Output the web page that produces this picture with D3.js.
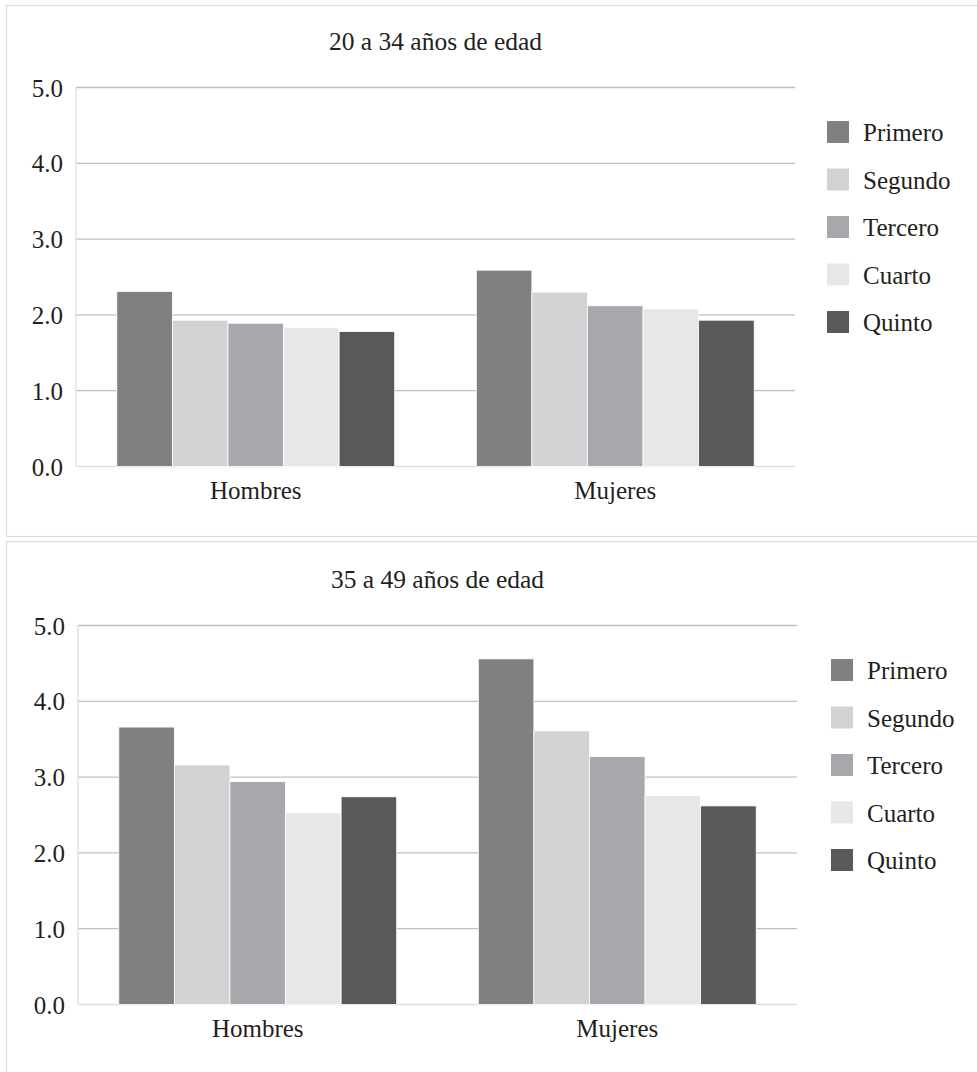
<!DOCTYPE html>
<html>
<head>
<meta charset="utf-8">
<script src="https://cdn.jsdelivr.net/npm/d3@7"></script>
<style>
  html, body { margin: 0; padding: 0; background: #fff; }
  svg { display: block; }
  text { font-family: "Liberation Serif", "DejaVu Serif", serif; fill: #231f20; }
</style>
</head>
<body>
<svg id="chart" width="977" height="1072"></svg>
<script>
// ---- data ----
const categories = ["Hombres", "Mujeres"];
const series = ["Primero", "Segundo", "Tercero", "Cuarto", "Quinto"];
const seriesColors = ["#808083", "#d1d2d4", "#a7a8ab", "#e6e7e8", "#58595b"];
const panelTitles = ["20 a 34 años de edad", "35 a 49 años de edad"];
const hombres20a34 = [2.31, 1.93, 1.89, 1.83, 1.78];
const mujeres20a34 = [2.59, 2.30, 2.12, 2.08, 1.93];
const hombres35a49 = [3.66, 3.16, 2.94, 2.53, 2.74];
const mujeres35a49 = [4.56, 3.61, 3.27, 2.76, 2.62];
const yTicks = [0, 1, 2, 3, 4, 5];
const yTickLabels = ["0.0", "1.0", "2.0", "3.0", "4.0", "5.0"];

const panelData = [
  [hombres20a34, mujeres20a34],
  [hombres35a49, mujeres35a49]
];

// ---- layout ----
const svg = d3.select("#chart");
const panels = [
  { dx: 0, dy: 0, boxY: 5, boxH: 531, legendX: 827 },
  { dx: 2, dy: 538, boxY: 541, boxH: 560, legendX: 831 }
];

panels.forEach((p, pi) => {
  const g = svg.append("g").attr("transform", `translate(${p.dx},0)`);

  // frame
  svg.append("rect")
    .attr("x", 6.5).attr("y", p.boxY + 0.5)
    .attr("width", 1000).attr("height", p.boxH)
    .attr("fill", "none").attr("stroke", "#dcdcdc").attr("stroke-width", 1.2);

  const left = 76, right = 795;
  const y = d3.scaleLinear().domain([0, 5]).range([466.5 + p.dy, 87.5 + p.dy]);
  const x0 = d3.scaleBand().domain(categories).range([left, right])
    .paddingInner(0.227).paddingOuter(0.1135);
  const x1 = d3.scaleBand().domain(series).range([0, x0.bandwidth()]).padding(0);

  // title
  g.append("text")
    .attr("x", (left + right) / 2).attr("y", 50 + p.dy)
    .attr("text-anchor", "middle").attr("font-size", 25.5)
    .text(panelTitles[pi]);

  // gridlines
  g.selectAll(".grid").data(yTicks).enter().append("line")
    .attr("x1", left).attr("x2", right)
    .attr("y1", d => y(d)).attr("y2", d => y(d))
    .attr("stroke", d => d === 0 ? "#dedede" : "#c0c0c0")
    .attr("stroke-width", d => d === 0 ? 1.5 : 1.3);

  // y axis line
  g.append("line")
    .attr("x1", left).attr("x2", left)
    .attr("y1", y(5)).attr("y2", y(0))
    .attr("stroke", "#dedede").attr("stroke-width", 1.3);

  // y tick labels
  g.selectAll(".ytl").data(yTicks).enter().append("text")
    .attr("x", left - 13).attr("y", d => y(d) + 9)
    .attr("text-anchor", "end").attr("font-size", 25)
    .text((d, i) => yTickLabels[i]);

  // bars
  categories.forEach((cat, ci) => {
    const vals = panelData[pi][ci];
    g.append("g").attr("transform", `translate(${x0(cat)},0)`)
      .selectAll("rect").data(vals).enter().append("rect")
      .attr("x", (d, i) => x1(series[i]))
      .attr("width", x1.bandwidth())
      .attr("y", d => y(d))
      .attr("height", d => y(0) - y(d))
      .attr("fill", (d, i) => seriesColors[i])
      .attr("stroke", "#ffffff").attr("stroke-width", 0.8);

    g.append("text")
      .attr("x", x0(cat) + x0.bandwidth() / 2)
      .attr("y", y(0) + 32.5)
      .attr("text-anchor", "middle").attr("font-size", 25)
      .text(cat);
  });

  // legend
  const lg = svg.append("g");
  series.forEach((s, i) => {
    const cy = 132 + p.dy + i * 47.5;
    lg.append("rect")
      .attr("x", p.legendX).attr("y", cy - 11)
      .attr("width", 22).attr("height", 22)
      .attr("fill", seriesColors[i]);
    lg.append("text")
      .attr("x", p.legendX + 36).attr("y", cy + 9)
      .attr("font-size", 25)
      .text(s);
  });
});
</script>
</body>
</html>
